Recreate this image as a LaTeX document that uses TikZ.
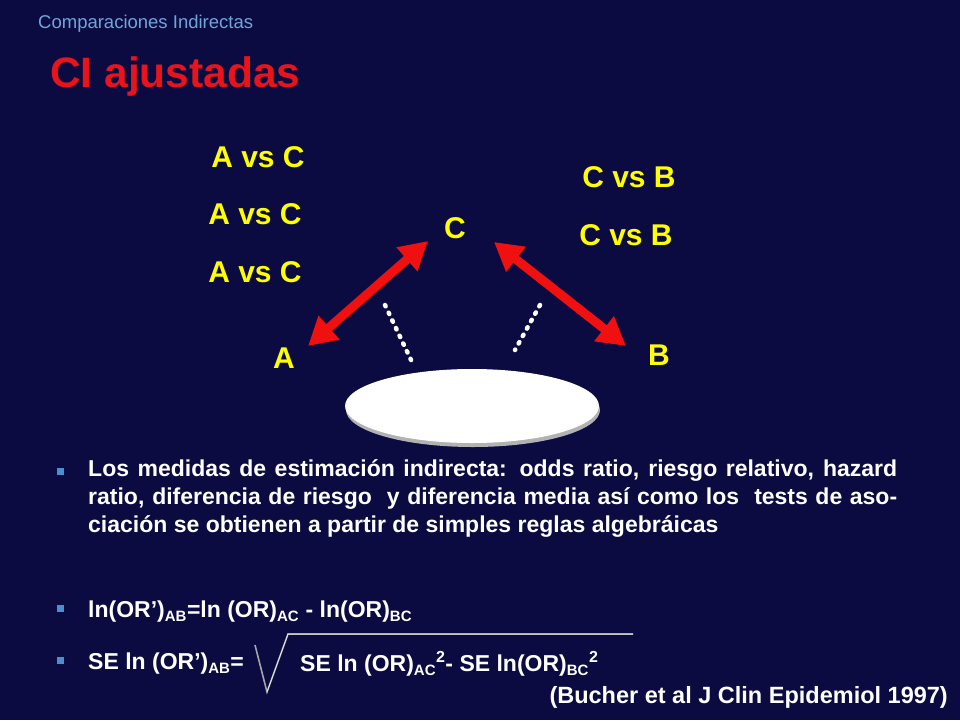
\documentclass[tikz,border=0pt]{standalone}
\usepackage{fontspec}
\setmainfont{Liberation Sans}
\usetikzlibrary{arrows.meta,shapes.geometric}
\definecolor{bg}{HTML}{0B0B42}
\definecolor{yel}{HTML}{FFFF00}
\definecolor{red1}{HTML}{E8141C}
\definecolor{arr}{HTML}{F01010}
\definecolor{bul}{HTML}{4A90D0}
\newcommand{\sbx}[1]{\textsubscript{\fontsize{15}{16}\selectfont #1}}
\newcommand{\spx}[1]{\textsuperscript{\fontsize{16}{16}\selectfont #1}}
\tikzset{
 lbl/.style={text=yel,font=\fontsize{30}{32}\selectfont\bfseries,inner sep=0pt},
 redarrow/.style={draw=arr,line width=9pt,{Triangle[width=30pt,length=28pt]}-{Triangle[width=30pt,length=28pt]}},
 dots/.style={draw=white,line width=4.5pt,line cap=round,dash pattern=on 1.5pt off 7pt},
 body/.style={text=white,font=\fontsize{23}{28}\selectfont\bfseries,inner sep=0pt,anchor=north west},
 bullet/.style={fill=bul,minimum size=7pt,inner sep=0pt},
 oval/.style={ellipse,fill=white,minimum width=254pt,minimum height=74pt,inner sep=0pt}
}
\begin{document}
\begin{tikzpicture}[x=1pt,y=-1pt]
\fill[bg] (0,0) rectangle (960,720);
\useasboundingbox (0,0) rectangle (960,720);
\node[text=bul!80!white,font=\fontsize{18.5}{20}\selectfont,anchor=west,inner sep=0pt] (hdr) at (38,24) {Comparaciones Indirectas};
\node[text=red1,font=\fontsize{42.5}{46}\selectfont\bfseries,anchor=west,inner sep=0pt] (title) at (50,77) {CI ajustadas};
\node[lbl] (l1) at (258,157) {A vs C};
\node[lbl] (l2) at (255,214) {A vs C};
\node[lbl] (l3) at (255,272) {A vs C};
\node[lbl] (r1) at (629,177) {C vs B};
\node[lbl] (r2) at (626,235) {C vs B};
\node[lbl] (C) at (455,228) {C};
\node[lbl] (A) at (284,358) {A};
\node[lbl] (B) at (659,355) {B};
\coordinate (a1) at (308,346); \coordinate (c1) at (428,241);
\coordinate (c2) at (494,242); \coordinate (b1) at (626,346);
\draw[redarrow] (a1) -- (c1);
\draw[redarrow] (c2) -- (b1);
\node[oval,fill=gray!60] (Es) at (473,410) {};
\node[oval] (E) at (472,406) {};
\coordinate (d1) at (385,305); \coordinate (d2) at (412,362);
\coordinate (d3) at (540,305); \coordinate (d4) at (515,350);
\draw[dots] (d1) -- (d2);
\draw[dots] (d3) -- (d4);
\node[bullet] (b1q) at (60,471) {};
\node[body,text width=809pt,align=justify] (p1) at (88,459) {Los medidas de estimación indirecta: odds ratio, riesgo relativo, hazard ratio, diferencia de riesgo\ \ y diferencia media así como los\ \ tests de asociación se obtienen a partir de simples reglas algebráicas};
\node[bullet] (b2q) at (60,608) {};
\node[body,anchor=west] (f1) at (88,612) {ln(OR’)\sbx{AB}=ln (OR)\sbx{AC} - ln(OR)\sbx{BC}};
\node[bullet] (b3q) at (60,660) {};
\node[body,anchor=west] (f2a) at (88,664) {SE ln (OR’)\sbx{AB}=};
\node[body,anchor=west] (f2b) at (300,664) {SE ln (OR)\sbx{AC}\spx{2}- SE ln(OR)\sbx{BC}\spx{2}};
\coordinate (s1) at (255,645); \coordinate (s2) at (267,692); \coordinate (s3) at (288,634); \coordinate (s4) at (633,634);
\draw[gray!70,line width=1.6pt,line join=miter] (s1) -- (s2) -- (s3) -- (s4);
\draw[white,line width=0.5pt] (s2) -- (s3) -- (s4);
\node[text=white,font=\fontsize{23.5}{26}\selectfont\bfseries,anchor=east,inner sep=0pt] (cit) at (948,697) {(Bucher et al J Clin Epidemiol 1997)};
\end{tikzpicture}
\end{document}
